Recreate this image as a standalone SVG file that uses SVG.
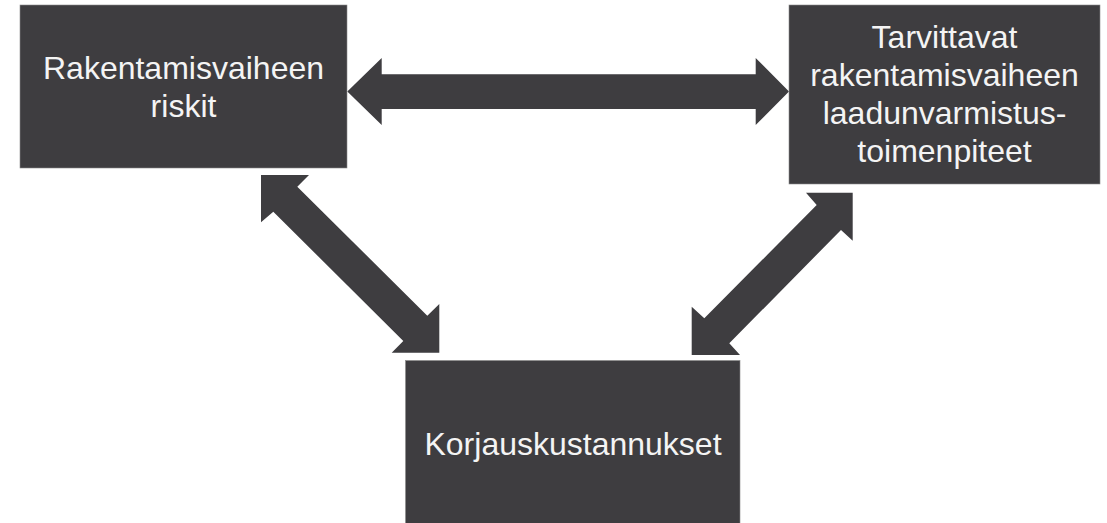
<svg xmlns="http://www.w3.org/2000/svg" width="1107" height="523" viewBox="0 0 1107 523">
<style>
.box{fill:#3e3d40;stroke:#8a8a8a;stroke-width:0.6}
.arrow{fill:#3e3d40}
.lbl{fill:#f4f4f4;font-family:"Liberation Sans",Arial,sans-serif;font-size:32px;text-anchor:middle}
</style>
<rect width="1107" height="523" fill="#ffffff"/>
<g id="connectors">
<polygon class="arrow" points="347.3,91.5 381.7,58 381.7,74.3 755.7,74.3 755.7,58 789,91.5 755.7,125 755.7,109 381.7,109 381.7,125"/>
<polygon class="arrow" points="261,175 309,175 297.3,186.7 427.3,315.7 439.3,304 439.3,352.7 391.7,352.7 403.3,341 273.3,211.7 261,222.3"/>
<polygon class="arrow" points="852.7,192.7 852.7,240.7 841,230 729.3,343.3 740,355 691.7,355 691.7,306.7 704.3,318.3 816.7,205 806,192.7"/>
</g>
<g id="node-riskit">
<rect class="box" x="20" y="5" width="327" height="163"/>
<text class="lbl" x="183.5" y="79">Rakentamisvaiheen</text>
<text class="lbl" x="183.5" y="117">riskit</text>
</g>
<g id="node-laadunvarmistus">
<rect class="box" x="789" y="5" width="311" height="179"/>
<text class="lbl" x="944.5" y="48">Tarvittavat</text>
<text class="lbl" x="944.5" y="86">rakentamisvaiheen</text>
<text class="lbl" x="944.5" y="124">laadunvarmistus-</text>
<text class="lbl" x="944.5" y="162">toimenpiteet</text>
</g>
<g id="node-korjauskustannukset">
<rect class="box" x="405.5" y="360.5" width="334.5" height="170"/>
<text class="lbl" x="573" y="455">Korjauskustannukset</text>
</g>
</svg>
